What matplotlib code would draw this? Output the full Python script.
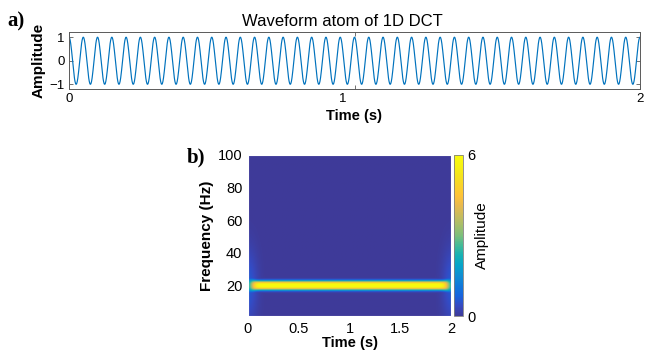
import numpy as np
import matplotlib
matplotlib.use("Agg")
import matplotlib.pyplot as plt
import matplotlib.transforms as mtransforms
from matplotlib.colors import LinearSegmentedColormap

# ---------------- data ----------------
atom_freq_hz = 20.0          # frequency of the DCT atom
duration_s = 2.0             # signal length
sample_rate = 1000           # samples per second
peak_amplitude = 6.0         # peak of the time-frequency map
band_halfwidth_hz = 2.8      # half-width of the ridge
band_shape_exp = 3.0         # flat-topped ridge profile
edge_ramp_s = 0.06           # ridge fades within this time at both ends
edge_floor = 0.4             # relative ridge level right at the ends
halo_level = 0.6             # faint leakage near the ends
halo_time_s = 0.09
halo_spread_hz = 22.0
freq_min_hz, freq_max_hz = 1.3, 100.0

top_xticks = [0, 1, 2]
top_yticks = [-1, 0, 1]
bot_xticks = [0, 0.5, 1, 1.5, 2]
bot_xticklabels = ["0", "0.5", "1", "1.5", "2"]
bot_yticks = [20, 40, 60, 80, 100]
cbar_ticks = [0, 6]

# parula-like colormap anchors
parula_pos = [0.0, 0.0625, 0.125, 0.1875, 0.25, 0.3125, 0.375, 0.4375, 0.5,
              0.5625, 0.625, 0.6875, 0.75, 0.8125, 0.875, 0.9375, 1.0]
parula_rgb = [
    (0.2450, 0.2300, 0.6000), (0.2100, 0.2900, 0.7600), (0.0900, 0.3900, 0.8700),
    (0.0629, 0.4737, 0.8554), (0.0641, 0.5570, 0.8240), (0.0231, 0.6418, 0.7913),
    (0.0843, 0.6928, 0.7062), (0.2586, 0.7317, 0.5954), (0.4871, 0.7491, 0.4840),
    (0.6473, 0.7456, 0.4188), (0.7858, 0.7356, 0.3633), (0.9139, 0.7258, 0.3063),
    (0.9990, 0.7653, 0.2164), (0.9789, 0.8271, 0.1633), (0.9589, 0.8949, 0.1132),
    (0.9661, 0.9514, 0.0755), (0.9763, 0.9831, 0.0538)]
parula = LinearSegmentedColormap.from_list("parula", list(zip(parula_pos, parula_rgb)))

# ---------------- signal ----------------
t = np.linspace(0, duration_s, int(duration_s * sample_rate) + 1)
x = np.cos(2 * np.pi * atom_freq_hz * t)

# time-frequency map of the atom: ridge at the atom frequency, fading at the ends
tt = np.linspace(0, duration_s, 600)
ff = np.linspace(freq_min_hz, freq_max_hz, 500)
T, F = np.meshgrid(tt, ff)
d_edge = np.minimum(T, duration_s - T)
near = np.exp(-(d_edge / edge_ramp_s) ** 2)
ridge_amp = 1 - (1 - edge_floor) * near
ridge_w = band_halfwidth_hz * (1 + 0.4 * near)
ridge = ridge_amp * np.exp(-(np.abs(F - atom_freq_hz) / ridge_w) ** band_shape_exp)
halo = halo_level / peak_amplitude * np.exp(-(d_edge / halo_time_s) ** 2) * \
    np.exp(-((F - atom_freq_hz) / halo_spread_hz) ** 2)
tf = peak_amplitude * np.maximum(ridge, halo)

# ---------------- figure ----------------
plt.rcParams["font.family"] = ["Liberation Sans", "DejaVu Sans"]
fig = plt.figure(figsize=(6.46, 3.54), dpi=100)
W, H = 646, 354

def box(x0, y0, x1, y1):
    return [x0 / W, 1 - y1 / H, (x1 - x0) / W, (y1 - y0) / H]

matlab_blue = (0, 0.447, 0.741)
frame_col = "#5a5a5a"

# top panel
ax1 = fig.add_axes(box(69, 32, 640, 89))
ax1.plot(t, x, color=matlab_blue, lw=0.85)
ax1.set_xlim(0, duration_s)
ax1.set_ylim(-1.2, 1.22)
ax1.set_xticks(top_xticks)
ax1.set_yticks(top_yticks)
ax1.set_yticklabels(["\u22121", "0", "1"])
ax1.tick_params(direction="in", length=3, labelsize=9.5, top=True, right=True,
                color=frame_col, pad=3, width=0.6)
for s in ax1.spines.values():
    s.set_color(frame_col)
    s.set_linewidth(0.7)
# the middle tick label sits slightly left in the reference
lbls = ax1.get_xticklabels()
off = mtransforms.ScaledTranslation(-12 / 100, 0, fig.dpi_scale_trans)
lbls[1].set_transform(lbls[1].get_transform() + off)
ax1.set_title("Waveform atom of 1D DCT", fontsize=12, x=0.478, pad=4)
ax1.set_xlabel("Time (s)", fontsize=10.5, fontweight="bold", labelpad=3)
ax1.set_ylabel("Amplitude", fontsize=11, fontweight="bold", labelpad=3)
fig.text(7 / W, 1 - 21 / H, "a)", fontsize=15, fontweight="bold",
         family="Liberation Serif", va="center", ha="left")

# bottom panel
ax2 = fig.add_axes(box(248, 155, 451, 316))
im = ax2.imshow(tf, origin="lower", aspect="auto", cmap=parula,
                extent=[0, duration_s, freq_min_hz, freq_max_hz],
                vmin=0, vmax=peak_amplitude, interpolation="bilinear")
ax2.set_xlim(0, duration_s)
ax2.set_ylim(freq_min_hz, freq_max_hz)
ax2.set_xticks(bot_xticks)
ax2.set_xticklabels(bot_xticklabels)
ax2.set_yticks(bot_yticks)
ax2.tick_params(direction="in", length=0, labelsize=10.5, pad=4)
for s in ax2.spines.values():
    s.set_color("white")
    s.set_linewidth(0.8)
ax2.set_xlabel("Time (s)", fontsize=10.5, fontweight="bold", labelpad=0)
ax2.set_ylabel("Frequency (Hz)", fontsize=11, fontweight="bold", labelpad=3)
fig.text(187 / W, 1 - 157 / H, "b)", fontsize=15, fontweight="bold",
         family="Liberation Serif", va="center", ha="left")

cax = fig.add_axes(box(454, 155, 463, 316))
cb = fig.colorbar(im, cax=cax)
cb.set_ticks(cbar_ticks)
cb.ax.tick_params(direction="in", length=0, labelsize=10.5, pad=3)
cb.outline.set_edgecolor("#808080")
cb.outline.set_linewidth(0.6)
cb.set_label("Amplitude", fontsize=11, labelpad=0)

fig.savefig("out.png", dpi=100)
